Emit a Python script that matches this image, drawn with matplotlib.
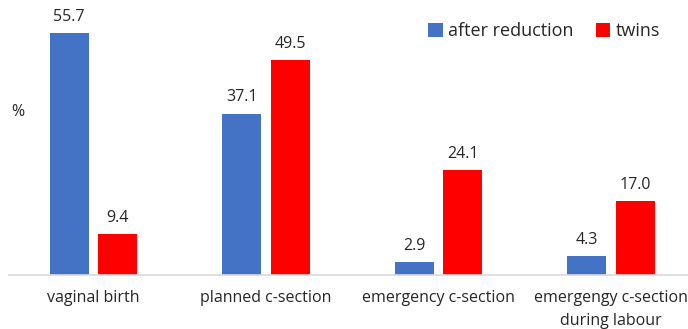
import numpy as np
import matplotlib.pyplot as plt

# Delivery mode, % of pregnancies
categories = ["vaginal birth", "planned c-section", "emergency c-section",
              "emergengy c-section\nduring labour"]
after_reduction = [55.7, 37.1, 2.9, 4.3]
twins = [9.4, 49.5, 24.1, 17.0]
series_names = ["after reduction", "twins"]

plt.rcParams['font.family'] = ['Open Sans', 'DejaVu Sans']

fig = plt.figure(figsize=(6.88, 3.29), dpi=100)
W, H = 688, 329
# axes box in pixels: left 9, bottom baseline at y=275, ylim 0..60
px_per_unit = 4.345
top_px = 275 - 60 * px_per_unit
ax = fig.add_axes([9 / W, (H - 275) / H, (W - 9) / W, (275 - top_px) / H])

x = np.arange(len(categories))
width = 0.226
off = 0.141
b1 = ax.bar(x - off, after_reduction, width, color='#4472C4', label=series_names[0])
b2 = ax.bar(x + off, twins, width, color='#FF0000', label=series_names[1])

for bars, vals in ((b1, after_reduction), (b2, twins)):
    for rect, v in zip(bars, vals):
        ax.annotate(f"{v:.1f}", (rect.get_x() + rect.get_width() / 2, v),
                    xytext=(0, 6), textcoords='offset points',
                    ha='center', va='bottom', fontsize=11.5, color='#262626')

ax.set_xlim((9 - 93.5) / 172.5, (688 - 93.5) / 172.5)
ax.set_ylim(0, 60)
ax.set_xticks(x)
ax.set_xticklabels(categories, fontsize=11.5, color='#262626', linespacing=1.6)
ax.tick_params(axis='x', length=0, pad=11)
ax.set_yticks([])
for side in ('top', 'right', 'left'):
    ax.spines[side].set_visible(False)
ax.spines['bottom'].set_color('#D9D9D9')
ax.spines['bottom'].set_linewidth(1.2)

fig.text(18 / W, 1 - 112 / H, "%", fontsize=11.5, color='#262626', ha='center', va='center')

ax.legend(loc='upper right', bbox_to_anchor=(676 / W, 1 - 6 / H), ncol=2, frameon=False,
          fontsize=13, handlelength=0.8, handleheight=0.8, handletextpad=0.3,
          columnspacing=1.2, labelcolor='#262626',
          bbox_transform=fig.transFigure)

fig.savefig("out.png", dpi=100)
